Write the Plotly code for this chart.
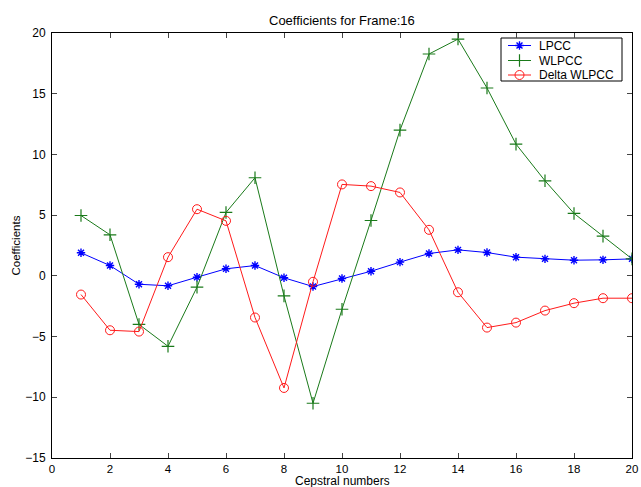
import plotly.graph_objects as go

# Cepstral index and coefficient series for frame 16
cepstral_idx = list(range(1, 21))
lpcc = [1.9, 0.85, -0.69, -0.82, -0.11, 0.58, 0.85, -0.16, -0.88, -0.22,
        0.38, 1.13, 1.84, 2.14, 1.92, 1.54, 1.4, 1.29, 1.32, 1.4]
wlpcc = [4.97, 3.38, -4.0, -5.8, -0.93, 5.22, 8.08, -1.65, -10.49, -2.75,
         4.56, 12.0, 18.27, 19.5, 15.47, 10.85, 7.83, 5.14, 3.27, 1.4]
delta_wlpcc = [-1.54, -4.48, -4.59, 1.54, 5.49, 4.53, -3.43, -9.23, -0.49, 7.53,
               7.39, 6.87, 3.79, -1.35, -4.26, -3.85, -2.86, -2.25, -1.84, -1.84]

series_names = ["LPCC", "WLPCC", "Delta WLPCC"]
series_values = [lpcc, wlpcc, delta_wlpcc]

x_ticks = list(range(0, 21, 2))
y_ticks = list(range(-15, 21, 5))

FONT = "Liberation Sans, Arial, sans-serif"
W, H = 641, 487
L, R, T, B = 52, 9, 33, 29
pw, ph = W - L - R, H - T - B

styles = [
    dict(color="#0000ff", symbol="asterisk-open", size=7, lw=1.4),
    dict(color="#1a7a1a", symbol="cross-thin-open", size=9, lw=1.2),
    dict(color="#ff1a1a", symbol="circle-open", size=9, lw=1.0),
]

fig = go.Figure()
for name, vals, st in zip(series_names, series_values, styles):
    fig.add_trace(go.Scatter(
        x=cepstral_idx, y=vals, name=name, mode="lines+markers",
        line=dict(color=st["color"], width=1),
        marker=dict(symbol=st["symbol"], size=st["size"], color=st["color"],
                    line=dict(color=st["color"], width=st["lw"])),
        showlegend=False,
    ))

# Boxed legend in the upper-right corner, laid out on a pixel-scaled overlay axis
box = dict(x0=501, x1=622, y0=38, y1=81)
row_y = [45.5, 60.5, 75]
sample_x0, sample_x1, text_x = 508, 531, 537

fig.add_shape(type="rect", xref="x2", yref="y2",
              x0=box["x0"], x1=box["x1"], y0=box["y0"], y1=box["y1"],
              line=dict(color="black", width=1), fillcolor="white", layer="below")
for name, st, ry in zip(series_names, styles, row_y):
    fig.add_shape(type="line", xref="x2", yref="y2",
                  x0=sample_x0, x1=sample_x1, y0=ry, y1=ry,
                  line=dict(color=st["color"], width=1), layer="above")
    fig.add_annotation(x=text_x, y=ry, xref="x2", yref="y2", text=name,
                       showarrow=False, xanchor="left", yanchor="middle",
                       font=dict(family=FONT, size=12, color="black"))
    fig.add_trace(go.Scatter(
        x=[(sample_x0 + sample_x1) / 2], y=[ry], xaxis="x2", yaxis="y2",
        mode="markers", showlegend=False, hoverinfo="skip",
        marker=dict(symbol=st["symbol"], size=st["size"], color=st["color"],
                    line=dict(color=st["color"], width=st["lw"])),
    ))

# Title and axis labels, positioned relative to the plot area
fig.add_annotation(text="Coefficients for Frame:16", x=0.5, y=1 + 13 / ph,
                   xref="paper", yref="paper", showarrow=False,
                   xanchor="center", yanchor="middle",
                   font=dict(family=FONT, size=13, color="black"))
fig.add_annotation(text="Cepstral numbers", x=0.5, y=-23 / ph, height=12,
                   xref="paper", yref="paper", showarrow=False,
                   xanchor="center", yanchor="middle", borderpad=0,
                   font=dict(family=FONT, size=12, color="black"))
fig.add_annotation(text="Coefficients", x=-37 / pw, y=0.5,
                   xref="paper", yref="paper", showarrow=False, textangle=-90,
                   xanchor="center", yanchor="middle",
                   font=dict(family=FONT, size=11.5, color="black"))

fig.update_layout(
    width=W, height=H,
    margin=dict(l=L, r=R, t=T, b=B),
    paper_bgcolor="white", plot_bgcolor="white",
    font=dict(family=FONT, size=12, color="black"),
    showlegend=False,
    xaxis=dict(
        range=[0, 20], tickvals=x_ticks, ticks="inside", ticklen=5,
        showline=True, linecolor="black", linewidth=1, mirror="ticks",
        showgrid=False, zeroline=False, automargin=False,
        tickfont=dict(size=11.5),
    ),
    yaxis=dict(
        range=[-15, 20], tickvals=y_ticks, ticks="inside", ticklen=5,
        showline=True, linecolor="black", linewidth=1, mirror="ticks",
        showgrid=False, zeroline=False, automargin=False, ticklabelstandoff=3,
    ),
    xaxis2=dict(overlaying="x", range=[L, W - R], visible=False, fixedrange=True),
    yaxis2=dict(overlaying="y", range=[H - B, T], visible=False, fixedrange=True),
)

fig.write_html("out.html")
